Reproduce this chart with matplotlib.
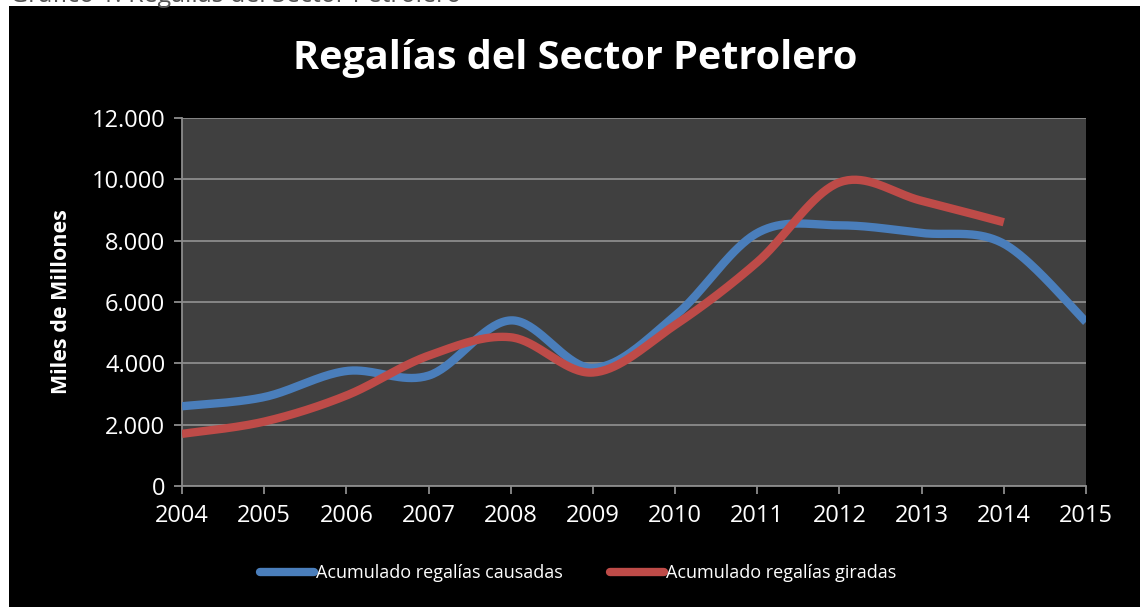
import numpy as np
import matplotlib
matplotlib.use("Agg")
import matplotlib.pyplot as plt
from matplotlib.ticker import FuncFormatter
from matplotlib.lines import Line2D

# --- datos ---
years_causadas = [2004, 2005, 2006, 2007, 2008, 2009, 2010, 2011, 2012, 2013, 2014, 2015]
causadas = [2600, 2900, 3750, 3600, 5400, 3850, 5550, 8250, 8500, 8250, 7900, 5350]

years_giradas = [2004, 2005, 2006, 2007, 2008, 2009, 2010, 2011, 2012, 2013, 2014]
giradas = [1700, 2100, 2950, 4250, 4850, 3700, 5250, 7300, 9900, 9300, 8600]

y_ticks = [0, 2000, 4000, 6000, 8000, 10000, 12000]

BLUE = "#4a7ebb"
RED = "#be4b48"
FONT = ["Open Sans", "DejaVu Sans"]


def smooth(xs, ys, n=40):
    # curva suavizada estilo Excel (Bezier con tangentes Catmull-Rom)
    x = np.asarray(xs, float)
    y = np.asarray(ys, float)
    px = np.concatenate([[x[0]], x, [x[-1]]])
    py = np.concatenate([[y[0]], y, [y[-1]]])
    out_x, out_y = [], []
    t = np.linspace(0, 1, n)
    for i in range(1, len(px) - 2):
        p0x, p0y = px[i], py[i]
        p3x, p3y = px[i + 1], py[i + 1]
        c1x = p0x + (px[i + 1] - px[i - 1]) / 6
        c1y = p0y + (py[i + 1] - py[i - 1]) / 6
        c2x = p3x - (px[i + 2] - px[i]) / 6
        c2y = p3y - (py[i + 2] - py[i]) / 6
        bx = (1 - t) ** 3 * p0x + 3 * (1 - t) ** 2 * t * c1x + 3 * (1 - t) * t ** 2 * c2x + t ** 3 * p3x
        by = (1 - t) ** 3 * p0y + 3 * (1 - t) ** 2 * t * c1y + 3 * (1 - t) * t ** 2 * c2y + t ** 3 * p3y
        out_x.extend(bx)
        out_y.extend(by)
    return out_x, out_y


fig = plt.figure(figsize=(11.4, 6.07), dpi=100, facecolor="white")

# fondo negro del gráfico
fig.patches.append(plt.Rectangle((9 / 1140, 0), 1, 1 - 6 / 607, transform=fig.transFigure,
                                 facecolor="black", edgecolor="none", zorder=-10))

# título del documento, cortado arriba como en el original
fig.text(10 / 1140, 1 - 1.5 / 607, "Gráfico 1. Regalías del Sector Petrolero", fontsize=18,
         color="#555555", va="baseline", ha="left", family=FONT, zorder=-5)

ax = fig.add_axes([182 / 1140, 121 / 607, 904 / 1140, 368 / 607])
ax.set_facecolor("#404040")

x1, y1 = smooth(years_causadas, causadas)
x2, y2 = smooth(years_giradas, giradas)
ax.plot(x1, y1, color=BLUE, lw=6, solid_capstyle="butt", zorder=3)
ax.plot(x2, y2, color=RED, lw=6, solid_capstyle="butt", zorder=4)

ax.set_xlim(2004, 2015)
ax.set_ylim(0, 12000)
ax.set_xticks(years_causadas)
ax.set_yticks(y_ticks)
ax.yaxis.set_major_formatter(FuncFormatter(lambda v, p: f"{int(v):,}".replace(",", ".")))
ax.grid(axis="y", color="#8c8c8c", lw=1.3)
ax.set_axisbelow(True)

for s in ["top", "right"]:
    ax.spines[s].set_visible(False)
for s in ["left", "bottom"]:
    ax.spines[s].set_color("#8c8c8c")
    ax.spines[s].set_linewidth(1.3)

ax.tick_params(axis="both", colors="#8c8c8c", labelcolor="white", labelsize=17,
               length=6, width=1.3)
ax.tick_params(axis="x", pad=7)
ax.tick_params(axis="y", pad=6)
for lab in ax.get_xticklabels() + ax.get_yticklabels():
    lab.set_family(FONT)

ax.set_ylabel("Miles de Millones", color="white", fontsize=15.5, fontweight="bold",
              family=FONT, labelpad=14)

fig.text(575 / 1140, 1 - 58 / 607, "Regalías del Sector Petrolero", color="white",
         fontsize=28.5, fontweight="bold", ha="center", va="center", family=FONT)

handles = [Line2D([], [], color=BLUE, lw=6, solid_capstyle="round"),
           Line2D([], [], color=RED, lw=6, solid_capstyle="round")]
leg = fig.legend(handles, ["Acumulado regalías causadas", "Acumulado regalías giradas"],
                 loc="center", bbox_to_anchor=(578 / 1140, 1 - 573 / 607), ncol=2,
                 frameon=False, handlelength=3.0, handletextpad=0.1, columnspacing=2.6,
                 prop={"family": FONT, "size": 13})
for t in leg.get_texts():
    t.set_color("white")

fig.savefig("out.png", dpi=100, facecolor="white")
